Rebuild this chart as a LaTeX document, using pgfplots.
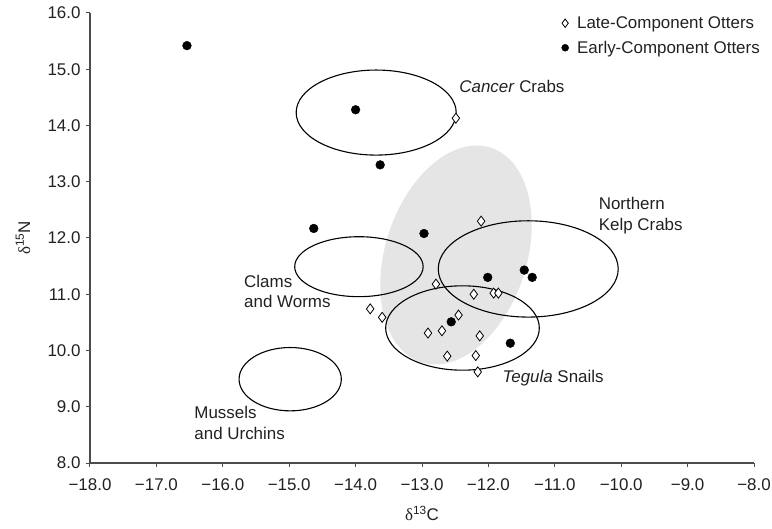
\documentclass[border=0pt]{standalone}
\usepackage{fontspec}
\setmainfont{Liberation Sans}
\newfontfamily\seriff{Liberation Serif}
\usepackage{pgfplots}
\pgfplotsset{compat=1.18}
\definecolor{txt}{gray}{0.13}
\definecolor{axc}{gray}{0.3}
\definecolor{lightshade}{gray}{0.9}
\begin{document}
\begin{tikzpicture}[font=\fontsize{17}{21}\selectfont, text=txt]
\path[use as bounding box] (-90bp,-66bp) rectangle (682bp,463bp);
\begin{axis}[
  scale only axis,
  width=664bp, height=450bp,
  xmin=-18, xmax=-8, ymin=8, ymax=16,
  axis x line*=bottom, axis y line*=left,
  axis line style={axc, line width=1.2bp},
  every tick/.style={axc, line width=1bp},
  tick align=outside, major tick length=4bp,
  xtick={-18,-17,...,-8},
  xticklabels={−18.0,−17.0,−16.0,−15.0,−14.0,−13.0,−12.0,−11.0,−10.0,−9.0,−8.0},
  xticklabel style={yshift=-8bp},
  ytick={8,9,...,16},
  yticklabels={8.0,9.0,10.0,11.0,12.0,13.0,14.0,15.0,16.0},
  yticklabel style={xshift=-2bp},
  xlabel={{\seriff δ}\textsuperscript{13}C},
  ylabel={{\seriff δ}\textsuperscript{15}N},
  xlabel style={at={(axis description cs:0.5,-0.112)}, anchor=center},
  ylabel style={at={(axis description cs:-0.101,0.5)}, anchor=center},
  clip=false,
  legend style={at={(axis description cs:1.012,0.997)}, anchor=north east, draw=none, fill=none, text=txt, row sep=7bp, inner sep=0pt,
    nodes={inner sep=2bp}},
  legend cell align=left,
  legend image code/.code={\path[draw=none] (0bp,0bp) -- (14bp,0bp); \draw[#1] plot coordinates {(4bp,0bp)};},
]
% shaded ellipse
\fill[lightshade] (axis cs:-12.488,11.698) ellipse [x radius=112.8bp, y radius=70.7bp, rotate=72];
% outline ellipses
\draw[black, line width=1.1bp] (axis cs:-13.69,14.23) ellipse [x radius=1.205, y radius=0.756];
\draw[black, line width=1.1bp] (axis cs:-13.95,11.49) ellipse [x radius=0.967, y radius=0.533];
\draw[black, line width=1.1bp] (axis cs:-14.985,9.49) ellipse [x radius=0.77, y radius=0.563];
\draw[black, line width=1.1bp] (axis cs:-11.40,11.45) ellipse [x radius=1.355, y radius=0.856];
\draw[black, line width=1.1bp] (axis cs:-12.39,10.40) ellipse [x radius=1.157, y radius=0.75];

\addplot[only marks, mark=diamond*, mark size=5bp, mark options={fill=white, draw=black, line width=0.8bp},
  legend image post style={mark size=4.2bp}] coordinates {
(-12.49,14.13) (-12.11,12.30) (-13.78,10.74) (-13.60,10.59) (-12.79,11.18)
(-12.22,11.00) (-11.92,11.02) (-11.85,11.02) (-12.45,10.63) (-12.91,10.31)
(-12.70,10.35) (-12.13,10.26) (-12.62,9.90) (-12.19,9.91) (-12.16,9.62)
};
\addlegendentry{Late-Component Otters}
\addplot[only marks, mark=*, mark size=4.4bp, mark options={fill=black, draw=black},
  legend image post style={mark size=3.5bp}] coordinates {
(-16.54,15.42) (-14.00,14.28) (-13.63,13.30) (-14.63,12.17) (-12.97,12.08)
(-12.01,11.30) (-11.46,11.43) (-11.34,11.30) (-12.56,10.51) (-11.67,10.13)
};
\addlegendentry{Early-Component Otters}

\node[anchor=west] at (axis cs:-12.49,14.69) {\textit{Cancer} Crabs};
\node[anchor=west, align=left] at (axis cs:-10.39,12.40) {Northern\\Kelp Crabs};
\node[anchor=west, align=left] at (axis cs:-15.73,11.05) {Clams\\and Worms};
\node[anchor=west, align=left] at (axis cs:-16.48,8.71) {Mussels\\and Urchins};
\node[anchor=west] at (axis cs:-11.84,9.51) {\textit{Tegula} Snails};
\end{axis}
\end{tikzpicture}
\end{document}
